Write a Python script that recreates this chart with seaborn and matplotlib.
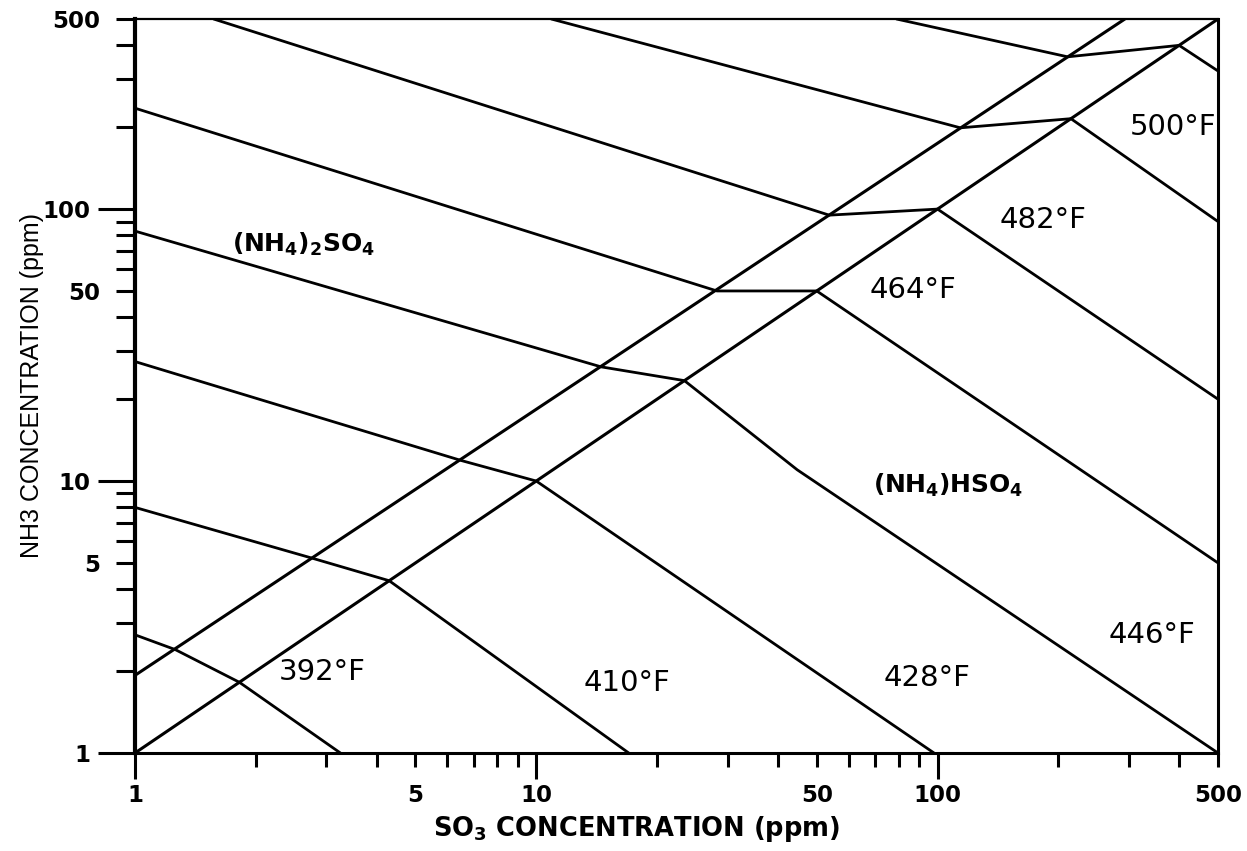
import matplotlib
matplotlib.use("Agg")
import matplotlib.pyplot as plt
import numpy as np
import pandas as pd
import seaborn as sns

# ---------------- data ----------------
# Isotherm polylines: SO3 (ppm) and NH3 (ppm) vertices
t392_so3 = [1.0, 1.26, 1.82, 3.25]
t392_nh3 = [2.72, 2.40, 1.82, 1.0]

t410_so3 = [1.0, 2.77, 4.3, 17.0]
t410_nh3 = [8.0, 5.2, 4.3, 1.0]

t428_so3 = [1.0, 6.5, 10.0, 98.0]
t428_nh3 = [27.5, 11.9, 10.0, 1.0]

t446_so3 = [1.0, 14.5, 23.4, 44.7, 500.0]
t446_nh3 = [83.0, 26.3, 23.4, 11.0, 1.0]

t464_so3 = [1.0, 28.2, 50.0, 500.0]
t464_nh3 = [235.0, 50.0, 50.0, 5.0]

t482_so3 = [1.57, 53.7, 100.0, 500.0]
t482_nh3 = [500.0, 95.0, 100.0, 20.0]

t500_so3 = [10.9, 114.0, 215.0, 500.0]
t500_nh3 = [500.0, 199.0, 215.0, 90.0]

t518_so3 = [79.0, 211.0, 400.0, 500.0]
t518_nh3 = [500.0, 363.0, 400.0, 322.0]

# Boundaries of the transition band
upper_so3 = [1.0, 293.0]
upper_nh3 = [1.93, 500.0]
lower_so3 = [1.0, 500.0]
lower_nh3 = [1.0, 500.0]

# Temperature labels and where they sit (SO3, NH3)
temp_labels = ["392°F", "410°F", "428°F", "446°F", "464°F", "482°F", "500°F"]
temp_label_so3 = [2.92, 16.8, 93.9, 343.0, 86.6, 183.0, 387.0]
temp_label_nh3 = [1.99, 1.81, 1.89, 2.72, 50.3, 91.1, 200.5]

region_labels = [r"(NH$_4$)$_2$SO$_4$", r"(NH$_4$)HSO$_4$"]
region_label_so3 = [2.63, 106.0]
region_label_nh3 = [74.3, 9.62]

x_major = [1, 10, 100]
x_minor = [2, 3, 4, 5, 6, 7, 8, 9, 20, 30, 40, 50, 60, 70, 80, 90, 200, 300, 400, 500]
y_major = [1, 10, 100]
y_minor = [2, 3, 4, 5, 6, 7, 8, 9, 20, 30, 40, 50, 60, 70, 80, 90, 200, 300, 400, 500]
labelled_minor = [5, 50, 500]

x_title = r"SO$_3$ CONCENTRATION (ppm)"
y_title = "NH3 CONCENTRATION (ppm)"

# ---------------- build tables ----------------
iso = {
    "392": (t392_so3, t392_nh3),
    "410": (t410_so3, t410_nh3),
    "428": (t428_so3, t428_nh3),
    "446": (t446_so3, t446_nh3),
    "464": (t464_so3, t464_nh3),
    "482": (t482_so3, t482_nh3),
    "500": (t500_so3, t500_nh3),
    "518": (t518_so3, t518_nh3),
}
rows = []
for name, (xs, ys) in iso.items():
    for i, (a, b) in enumerate(zip(xs, ys)):
        rows.append({"curve": name, "i": i, "SO3": a, "NH3": b})
df_iso = pd.DataFrame(rows)

rows = []
for name, (xs, ys) in {"upper": (upper_so3, upper_nh3), "lower": (lower_so3, lower_nh3)}.items():
    for i, (a, b) in enumerate(zip(xs, ys)):
        rows.append({"curve": name, "i": i, "SO3": a, "NH3": b})
df_band = pd.DataFrame(rows)

# ---------------- style ----------------
sns.set_theme(style="ticks")
plt.rcParams["font.family"] = ["DejaVu Sans"]
plt.rcParams["font.weight"] = "bold"
plt.rcParams["mathtext.fontset"] = "dejavusans"
plt.rcParams["mathtext.default"] = "bf"
plt.rcParams["axes.edgecolor"] = "black"
plt.rcParams["xtick.color"] = "black"
plt.rcParams["ytick.color"] = "black"

W, H = 1247, 851
fig = plt.figure(figsize=(W / 100, H / 100), dpi=100)
fig.patch.set_facecolor("white")
left_px, right_px, top_px, bot_px = 135, 1218, 19, 753
ax = fig.add_axes([left_px / W, (H - bot_px) / H,
                   (right_px - left_px) / W, (bot_px - top_px) / H])
ax.set_facecolor("white")

ax.set_xscale("log")
ax.set_yscale("log")

sns.lineplot(data=df_iso, x="SO3", y="NH3", units="curve", estimator=None,
             sort=False, color="black", linewidth=2.0, ax=ax, legend=False)
sns.lineplot(data=df_band, x="SO3", y="NH3", units="curve", estimator=None,
             sort=False, color="black", linewidth=2.2, ax=ax, legend=False)

ax.set_xlim(1, 500)
ax.set_ylim(1, 500)

# ticks
ax.set_xticks(x_major)
ax.set_xticklabels([str(v) for v in x_major])
ax.set_xticks(x_minor, minor=True)
ax.set_xticklabels([str(v) if v in labelled_minor else "" for v in x_minor], minor=True)
ax.set_yticks(y_major)
ax.set_yticklabels([str(v) for v in y_major])
ax.set_yticks(y_minor, minor=True)
ax.set_yticklabels([str(v) if v in labelled_minor else "" for v in y_minor], minor=True)

ax.tick_params(axis="x", which="major", direction="out", length=18.5, width=2.2, pad=4.0, labelsize=16.5)
ax.tick_params(axis="x", which="minor", direction="out", length=10.0, width=2.2, pad=12.5, labelsize=16.5)
ax.tick_params(axis="y", which="major", direction="out", length=26.5, width=2.2, pad=5.5, labelsize=16.5)
ax.tick_params(axis="y", which="minor", direction="out", length=13.5, width=2.2, pad=11.5, labelsize=16.5)

for side, lw in {"left": 3.0, "bottom": 2.2, "top": 1.6, "right": 2.2}.items():
    ax.spines[side].set_visible(True)
    ax.spines[side].set_linewidth(lw)
    ax.spines[side].set_color("black")

ax.set_xlabel(x_title, fontsize=18.5, fontweight="bold", color="black")
ax.xaxis.set_label_coords(0.4635, -0.083)
ax.set_ylabel(y_title, fontsize=18, fontweight="normal", color="black",
              family=["Liberation Sans", "DejaVu Sans"])
ax.yaxis.set_label_coords(-0.084, 0.5)

for lab, xs, ys in zip(temp_labels, temp_label_so3, temp_label_nh3):
    ax.text(xs, ys, lab, fontsize=21, fontweight="normal", ha="center", va="center",
            color="black", family=["DejaVu Sans"])

for lab, xs, ys in zip(region_labels, region_label_so3, region_label_nh3):
    ax.text(xs, ys, lab, fontsize=18, fontweight="bold", ha="center", va="center",
            color="black")

fig.savefig("out.png", dpi=100, facecolor="white")
